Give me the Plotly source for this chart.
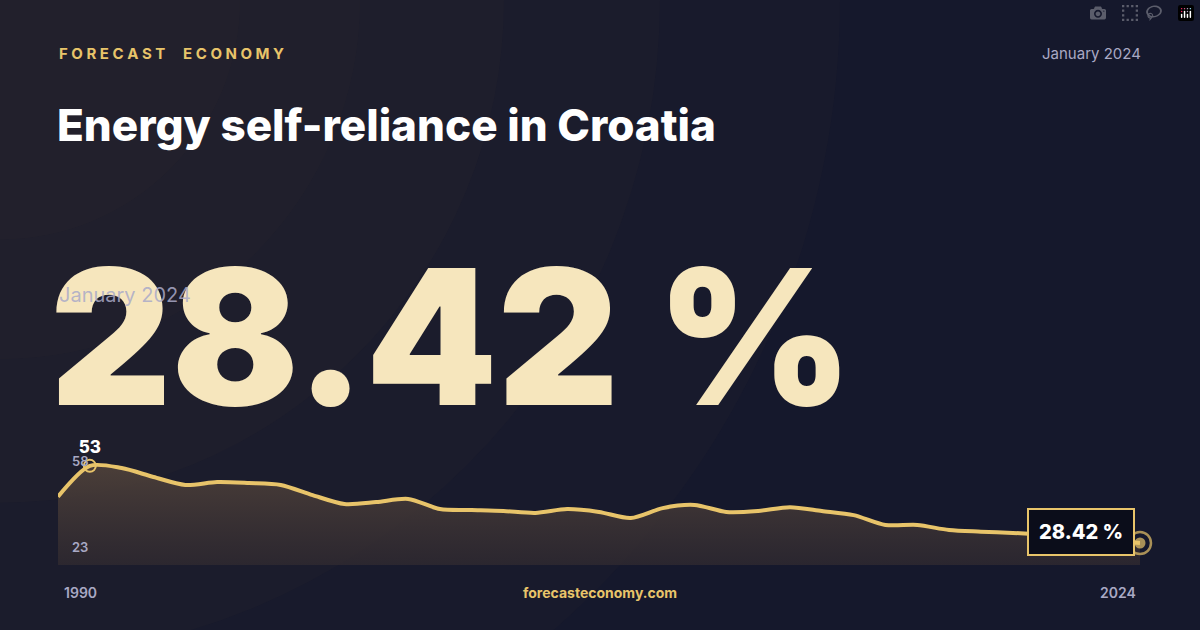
import plotly.graph_objects as go

years = list(range(1990, 2025))
values = [43.0, 52.7, 52.0, 49.2, 46.7, 47.6, 47.3, 46.7, 43.5, 40.7,
          41.3, 42.3, 39.1, 38.8, 38.5, 37.9, 39.1, 38.2, 36.3, 39.4,
          40.4, 38.2, 38.5, 39.7, 38.5, 37.2, 34.1, 34.1, 32.5, 32.0,
          31.6, 31.0, 30.2, 29.3, 28.42]
current_value = "28.42 %"
current_label = "January 2024"
title = "Energy self-reliance in Croatia"
brand = "FORECAST ECONOMY"
site = "forecasteconomy.com"
axis_min_label, axis_max_label = "23", "58"

gold = "#e8c46a"
bg = "#15182c"

fig = go.Figure()

fig.add_trace(go.Scatter(
    x=years, y=values, mode="lines",
    line=dict(color=gold, width=4, shape="spline", smoothing=0.8),
    fill="tozeroy",
    fillgradient=dict(type="vertical",
                      colorscale=[[0, "rgba(30,28,42,0.6)"], [1, "rgba(80,66,58,0.9)"]]),
    hoverinfo="skip", showlegend=False))

# peak marker
imax = values.index(max(values))
fig.add_trace(go.Scatter(
    x=[years[imax]], y=[values[imax]], mode="markers+text",
    marker=dict(size=12, color="rgba(0,0,0,0)", line=dict(color=gold, width=2)),
    text=[str(round(values[imax]))], textposition="top center",
    textfont=dict(family="Inter", size=17, color="white", weight=800),
    cliponaxis=False, hoverinfo="skip", showlegend=False))

# end marker
fig.add_trace(go.Scatter(
    x=[years[-1], years[-1]], y=[values[-1], values[-1]], mode="markers",
    marker=dict(size=[22, 11], color=["rgba(0,0,0,0)", gold],
                line=dict(color=gold, width=[2.5, 0])),
    cliponaxis=False, hoverinfo="skip", showlegend=False))

shapes = []
# soft warm glow in the top-left corner
for r in [0.7, 0.55, 0.42, 0.3, 0.2]:
    shapes.append(dict(type="circle", xref="paper", yref="paper",
                       x0=-r, x1=r, y0=1 - r * 1.9, y1=1 + r * 1.9,
                       fillcolor="rgba(120,95,65,0.035)", line=dict(width=0),
                       layer="below"))

annotations = [
    dict(text=brand.replace("", " ").strip().replace("   ", "     "), x=57, y=53,
         font=dict(family="Inter", size=15, color=gold, weight=700)),
    dict(text=current_label, x=1143, y=53, xanchor="right",
         font=dict(family="Inter", size=15, color="#a9a9c4")),
    dict(text=title, x=55, y=125,
         font=dict(family="Inter", size=44, color="white", weight=800)),
    dict(text=current_value, x=48, y=336,
         font=dict(family="Inter", size=188, color="#f6e6bd", weight=900)),
    dict(text=current_label, x=57, y=295,
         font=dict(family="Inter", size=20, color="rgba(170,170,200,0.85)")),
    dict(text=axis_max_label, x=70, y=461,
         font=dict(family="Inter", size=13, color="#a9a9c4", weight=600)),
    dict(text=axis_min_label, x=70, y=547,
         font=dict(family="Inter", size=13, color="#a9a9c4", weight=600)),
    dict(text=str(years[0]), x=62, y=592,
         font=dict(family="Inter", size=14, color="#a9a9c4", weight=600)),
    dict(text=str(years[-1]), x=1138, y=592, xanchor="right",
         font=dict(family="Inter", size=14, color="#a9a9c4", weight=600)),
    dict(text=site, x=600, y=592, xanchor="center",
         font=dict(family="Inter", size=14, color=gold, weight=700)),
    dict(text=current_value, x=1081, y=532, xanchor="center",
         font=dict(family="Inter", size=20, color="white", weight=800),
         bgcolor="#0b0d1a", bordercolor=gold, borderwidth=2, borderpad=10),
]
for a in annotations:
    a.setdefault("xanchor", "left")
    a.update(xref="paper", yref="paper", showarrow=False, yanchor="middle")
    a["x"] = a["x"] / 1200
    a["y"] = 1 - a["y"] / 630

fig.update_layout(
    width=1200, height=630,
    paper_bgcolor=bg, plot_bgcolor="rgba(0,0,0,0)",
    margin=dict(l=0, r=0, t=0, b=0),
    xaxis=dict(domain=[58 / 1200, 1140 / 1200], range=[1990, 2024],
               visible=False, fixedrange=True),
    yaxis=dict(domain=[1 - 565 / 630, 1 - 449 / 630], range=[21.5, 58],
               visible=False, fixedrange=True),
    shapes=shapes, annotations=annotations,
)

fig.write_html("out.html",
               post_script="document.body.style.margin='0';document.body.style.background='#15182c';")
